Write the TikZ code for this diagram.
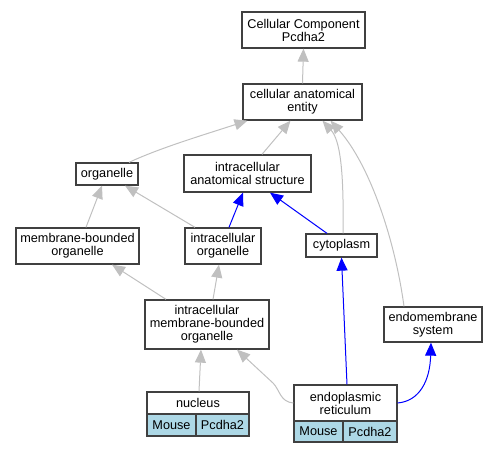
\documentclass[tikz,border=0pt]{standalone}
\usepackage{fontspec}
\setmainfont{Liberation Sans}
\usetikzlibrary{arrows.meta, positioning, calc}
\definecolor{edgegrey}{HTML}{C0C0C0}
\definecolor{edgeblue}{HTML}{0000FF}
\definecolor{boxline}{HTML}{404040}
\definecolor{cellblue}{HTML}{ADD8E6}
\tikzset{
    % GO term box
    term/.style={
        rectangle,
        draw=boxline,
        fill=white,
        line width=1.3pt,
        inner sep=1pt,
        align=center,
        font=\fontsize{12.7}{13}\selectfont
    },
    % Species / gene cell
    cell/.style={
        term,
        fill=cellblue
    },
    % Edge styles
    isa/.style={
        -{Triangle[length=13pt, width=11pt]},
        line width=1pt,
        color=edgegrey
    },
    partof/.style={
        -{Triangle[length=13pt, width=11pt]},
        line width=1pt,
        color=edgeblue
    }
}
\begin{document}
\begin{tikzpicture}[x=1pt, y=-1pt]
        \useasboundingbox (0,0) rectangle (499,453);

        % Terms
        \node[term, minimum width=123pt, minimum height=36pt] (top) at (303.5, 30) {Cellular Component\\Pcdha2};
        \node[term, minimum width=119pt, minimum height=36pt] (cae) at (302.5, 102) {cellular anatomical\\entity};
        \node[term, minimum width=62pt, minimum height=22pt] (organelle) at (107, 174) {organelle};
        \node[term, minimum width=127pt, minimum height=37pt] (ias) at (247.5, 173.5) {intracellular\\anatomical structure};
        \node[term, minimum width=123pt, minimum height=36pt] (mbo) at (77.5, 246) {membrane-bounded\\organelle};
        \node[term, minimum width=76pt, minimum height=36pt] (io) at (223, 246) {intracellular\\organelle};
        \node[term, minimum width=71pt, minimum height=23pt] (cyto) at (341.5, 245.5) {cytoplasm};
        \node[term, minimum width=124pt, minimum height=49pt] (imbo) at (207, 324.5) {intracellular\\membrane-bounded\\organelle};
        \node[term, minimum width=98pt, minimum height=35pt] (endo) at (433, 324.5) {endomembrane\\system};

        % Annotated terms
        \node[term, minimum width=102pt, minimum height=22pt] (nucleus) at (198, 403) {nucleus};
        \node[cell, minimum width=49pt, minimum height=22pt] (nucmouse) at (171.5, 425) {Mouse};
        \node[cell, minimum width=53pt, minimum height=22pt] (nucgene) at (222.5, 425) {Pcdha2};
        \node[term, minimum width=103pt, minimum height=36pt] (er) at (345.5, 403) {endoplasmic\\reticulum};
        \node[cell, minimum width=49pt, minimum height=21pt] (ermouse) at (318.5, 431.5) {Mouse};
        \node[cell, minimum width=54pt, minimum height=21pt] (ergene) at (370, 431.5) {Pcdha2};

        % Grey edges
        \draw[isa] (cae.north) -- (top.south);
        \draw[isa] ([xshift=22pt]organelle.north) .. controls (160,148) and (200,136) .. ([xshift=-55pt]cae.south);
        \draw[isa] ([xshift=14.5pt]ias.north) -- ([xshift=-12pt]cae.south);
        \draw[isa] ([xshift=1.5pt]cyto.north) .. controls (344,170) and (340,140) .. ([xshift=20pt]cae.south);
        \draw[isa] ([xshift=-29pt]endo.north) .. controls (395,240) and (370,165) .. ([xshift=28pt]cae.south);
        \draw[isa] ([xshift=8.5pt]mbo.north) -- ([xshift=-5pt]organelle.south);
        \draw[isa] ([xshift=-28pt]io.north) -- ([xshift=18pt]organelle.south);
        \draw[isa] ([xshift=-41pt]imbo.north) -- ([xshift=34.5pt]mbo.south);
        \draw[isa] ([xshift=6pt]imbo.north) -- ([xshift=-4pt]io.south);
        \draw[isa] ([xshift=1pt]nucleus.north) -- ([xshift=-6pt]imbo.south);
        \draw[isa] (er.west) .. controls (280,402) and (280,390) .. (273,383) -- ([xshift=30pt]imbo.south);

        % Blue edges
        \draw[partof] ([xshift=6pt]io.north) -- ([xshift=-4.5pt]ias.south);
        \draw[partof] ([xshift=-14.5pt]cyto.north) -- ([xshift=22.5pt]ias.south);
        \draw[partof] ([xshift=1.5pt]er.north) -- (cyto.south);
        \draw[partof] (er.east) .. controls (420,401) and (430,380) .. ([xshift=-2pt]endo.south);

    \end{tikzpicture}
\end{document}
